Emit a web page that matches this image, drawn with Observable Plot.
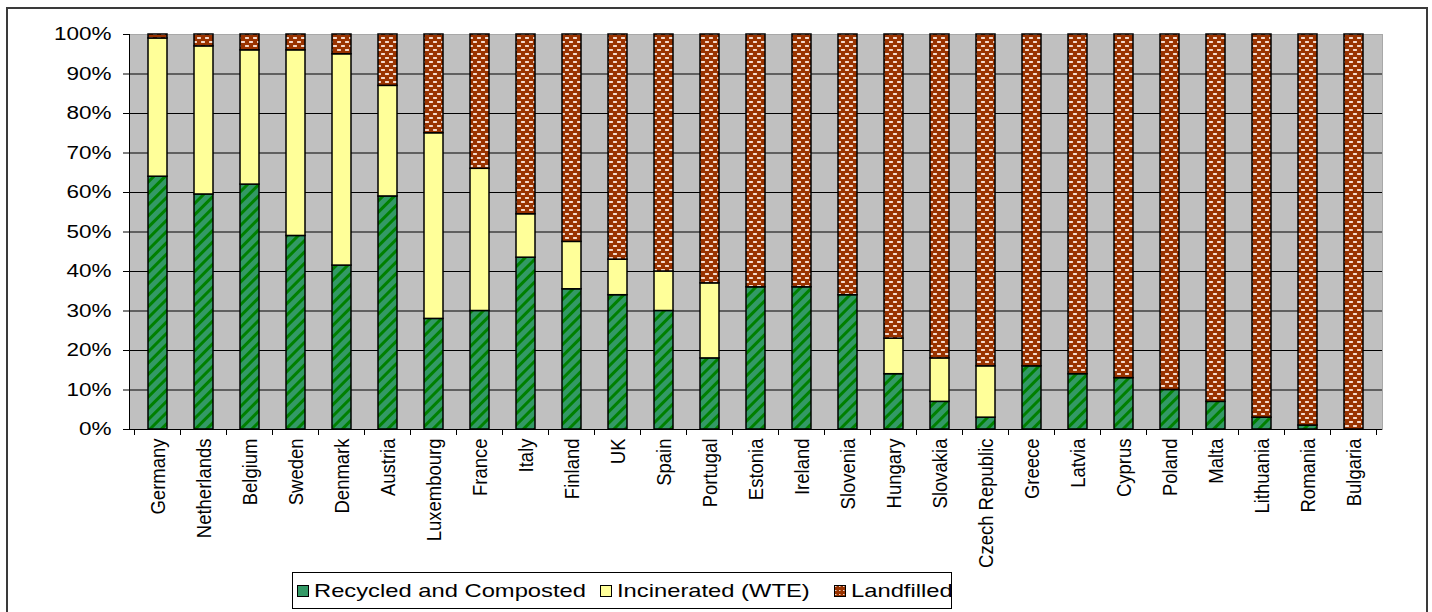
<!DOCTYPE html>
<html>
<head>
<meta charset="utf-8">
<script src="https://cdn.jsdelivr.net/npm/d3@7"></script>
<script src="https://cdn.jsdelivr.net/npm/@observablehq/plot@0.6"></script>
<style>
  html, body { margin: 0; padding: 0; background: #fff; width: 1432px; height: 612px; overflow: hidden; }
  #frame { position: absolute; left: 6px; top: 7px; width: 1422px; height: 640px; border: 2px solid #3a3a3a; box-sizing: border-box; }
  #chart { position: absolute; left: 0; top: 0; }
  #legend { position: absolute; left: 292px; top: 572px; width: 660px; height: 37px; border: 1px solid #000; box-sizing: border-box;
            font-family: "Liberation Sans", Arial, sans-serif; font-size: 19px; color: #000; background: #fff; }
  .item { position: absolute; top: 0; height: 35px; display: flex; align-items: center; white-space: nowrap; }
  .item span { display: inline-block; margin-left: 5px; transform: scaleX(1.25); transform-origin: left center; }
</style>
</head>
<body>
<div id="frame"></div>
<div id="chart"></div>
<div id="legend"></div>
<script>
const countries = ["Germany","Netherlands","Belgium","Sweden","Denmark","Austria","Luxembourg","France","Italy","Finland","UK","Spain","Portugal","Estonia","Ireland","Slovenia","Hungary","Slovakia","Czech Republic","Greece","Latvia","Cyprus","Poland","Malta","Lithuania","Romania","Bulgaria"];
const seriesNames = ["Recycled and Composted", "Incinerated (WTE)", "Landfilled"];
const recycled =    [64, 59.5, 62, 49, 41.5, 59, 28, 30, 43.5, 35.5, 34, 30, 18, 36, 36, 34, 14, 7, 3, 16, 14, 13, 10, 7, 3, 1, 0];
const incinerated = [35, 37.5, 34, 47, 53.5, 28, 47, 36, 11, 12, 9, 10, 19, 0, 0, 0, 9, 11, 13, 0, 0, 0, 0, 0, 0, 0, 0];
const landfilled =  [1, 3, 4, 4, 5, 13, 25, 34, 45.5, 52.5, 57, 60, 63, 64, 64, 66, 77, 82, 84, 84, 86, 87, 90, 93, 97, 99, 100];
const yTicks = [0, 10, 20, 30, 40, 50, 60, 70, 80, 90, 100];

const seriesValues = [recycled, incinerated, landfilled];
const data = [];
seriesNames.forEach((s, si) => countries.forEach((c, ci) => data.push({country: c, type: s, value: seriesValues[si][ci] / 100})));

const fills = ["url(#pGreen)", "#ffff99", "url(#pBrick)"];

const W = 1432, H = 612;
const chart = Plot.plot({
  width: W, height: H,
  marginTop: 34, marginBottom: H - 429, marginLeft: 129, marginRight: W - 1382,
  style: {fontFamily: "'Liberation Sans', Arial, sans-serif", fontSize: "18px", color: "#000", background: "transparent"},
  x: {type: "band", domain: countries, paddingInner: 0.58, paddingOuter: 0.29, label: null},
  y: {domain: [0, 1], label: null},
  color: {type: "ordinal", domain: seriesNames, range: fills},
  marks: [
    Plot.frame({fill: "#c0c0c0", stroke: "#a8a8a8"}),
    Plot.ruleY(yTicks.slice(1, -1).map(d => d / 100), {stroke: "#000", strokeWidth: 1}),
    Plot.barY(data, {x: "country", y: "value", fill: "type", order: seriesNames, stroke: "#000", strokeWidth: 1.5}),
    Plot.ruleY([0], {stroke: "#000", strokeWidth: 1}),
    Plot.frame({anchor: "left", stroke: "#000", strokeWidth: 1}),
    Plot.axisY({ticks: yTicks.map(d => d / 100), tickSize: 6, tickPadding: 12, tickFormat: d => Math.round(d * 100) + "%", fontSize: 18, stroke: "#000"}),
    Plot.axisX({tickRotate: -90, tickSize: 0, tickPadding: 9, fontSize: 18.5})
  ]
});

const svg = d3.select(chart);
const defs = svg.insert("defs", ":first-child");
const pg = defs.append("pattern").attr("id", "pGreen").attr("patternUnits", "userSpaceOnUse")
  .attr("width", 8).attr("height", 8).attr("patternTransform", "rotate(45)");
pg.append("rect").attr("width", 8).attr("height", 8).attr("fill", "#339966");
pg.append("rect").attr("width", 3).attr("height", 8).attr("fill", "#008000");
const pb = defs.append("pattern").attr("id", "pBrick").attr("patternUnits", "userSpaceOnUse")
  .attr("width", 8).attr("height", 8);
pb.append("rect").attr("width", 8).attr("height", 8).attr("fill", "#993300");
[[1, 1], [5, 5], [-3, 5]].forEach(([x, y]) => {
  pb.append("rect").attr("x", x).attr("y", y).attr("width", 4).attr("height", 2).attr("fill", "#e8b8a0");
  pb.append("rect").attr("x", x + 0.5).attr("y", y + 0.5).attr("width", 3).attr("height", 1).attr("fill", "#fff");
});

// stretch tick labels like the reference rendering
function stretch(sel, sx) {
  sel.each(function() {
    const el = this;
    let t = el.getAttribute("transform") || "";
    if (!/translate/.test(t)) {
      const x = +(el.getAttribute("x") || 0), y = +(el.getAttribute("y") || 0);
      el.removeAttribute("x"); el.removeAttribute("y");
      t = `translate(${x},${y}) ` + t;
    }
    if (/rotate/.test(t)) t = t.replace("rotate(", `scale(${sx},1) rotate(`);
    else t = t + ` scale(${sx},1)`;
    el.setAttribute("transform", t);
  });
}
stretch(svg.selectAll('g[aria-label="y-axis tick label"] text'), 1.25);
stretch(svg.selectAll('g[aria-label="x-axis tick label"] text'), 1.12);

// category boundary ticks on the x axis, from the band scale
const xs = chart.scale("x");
const yBottom = chart.scale("y").apply(0);
const gap = (xs.step - xs.bandwidth) / 2;
const bounds = countries.map(c => xs.apply(c) - gap);
bounds.push(xs.apply(countries[countries.length - 1]) + xs.bandwidth + gap);
svg.append("g").selectAll("line").data(bounds).join("line")
  .attr("x1", d => d).attr("x2", d => d).attr("y1", yBottom).attr("y2", yBottom + 6)
  .attr("stroke", "#000");

document.getElementById("chart").appendChild(chart);

// legend
const legend = document.getElementById("legend");
const legendX = [4, 307, 541];
seriesNames.forEach((s, i) => {
  const item = document.createElement("div");
  item.className = "item";
  item.style.left = legendX[i] + "px";
  const sw = `<svg width="12" height="12"><defs>
    <pattern id="lg${i}" patternUnits="userSpaceOnUse" width="4" height="4">
      <rect width="4" height="4" fill="${i === 0 ? '#339966' : '#993300'}"/>
      <rect x="1" y="1" width="1.5" height="1" fill="#fff" opacity="${i === 2 ? 0.8 : 0}"/>
    </pattern></defs>
    <rect x="0.5" y="0.5" width="11" height="11" fill="${i === 1 ? '#ffff99' : 'url(#lg' + i + ')'}" stroke="#000"/></svg>`;
  item.innerHTML = sw + `<span>${s}</span>`;
  legend.appendChild(item);
});
</script>
</body>
</html>
